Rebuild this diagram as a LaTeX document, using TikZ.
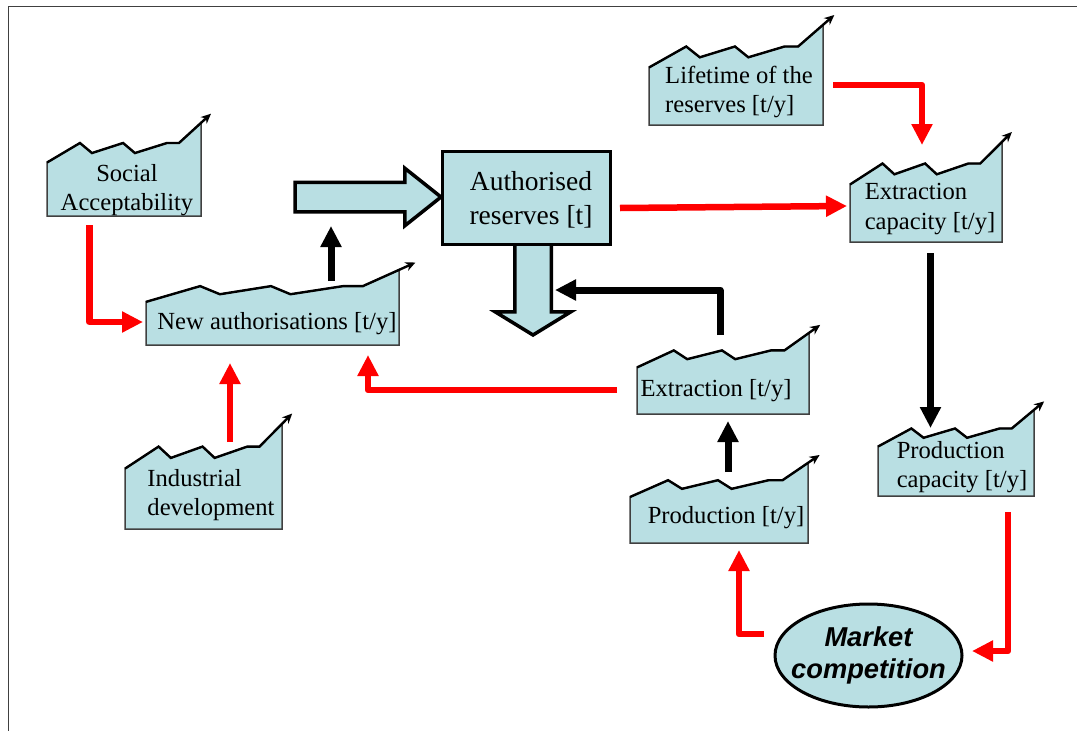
\documentclass[tikz,border=0pt]{standalone}
\usepackage{fontspec}
\usetikzlibrary{arrows.meta,shapes.geometric,shapes.arrows}
\setmainfont{Liberation Serif}
\newfontfamily\marketfont{Liberation Sans}
\definecolor{chartblue}{HTML}{B9DFE3}
\tikzset{
	redflow/.style={draw=red,line width=6.5pt,line join=round,-{Triangle[length=21pt,width=20pt]}},
	blackflow/.style={draw=black,line width=7pt,line join=round,-{Triangle[length=21pt,width=20pt]}},
	chartframe/.style={rectangle,inner sep=0pt,outer sep=0pt},
	charttext/.style={align=left,inner sep=0pt,font=\fontsize{24.6}{29.5}\selectfont},
	bigarrow/.style={single arrow,anchor=tail,draw=black,fill=chartblue,line width=3.5pt,inner xsep=0pt,outer sep=0pt,single arrow head indent=0pt}
}
\newcommand{\chartbox}[5]{
	\pgfmathsetmacro\chartw{#4-#2}
	\pgfmathsetmacro\charth{#3-#5}
	\begin{scope}[shift={(#2,#3)},x=\chartw pt,y=\charth pt]
		\draw[fill=chartblue,draw=black!75,line width=1.5pt] (0,0) -- (0,.575) -- (.214,.785) -- (.292,.677) -- (.494,.785) -- (.571,.677) -- (.779,.785) -- (.857,.785) -- (1,1) -- (1,0) -- cycle;
		\draw[line width=2.4pt,-{Stealth[length=10pt,width=9pt]}] (0,.575) -- (.214,.785) -- (.292,.677) -- (.494,.785) -- (.571,.677) -- (.779,.785) -- (.857,.785) -- (1.065,1.1);
	\end{scope}
	\node[chartframe,minimum width=\chartw pt,minimum height=\charth pt] (#1) at ({(#2+#4)/2},{(#3+#5)/2}) {};
}
\begin{document}
\begin{tikzpicture}[x=1pt,y=-1pt]
	\useasboundingbox (0,0) rectangle (1077,731);
	\draw[black!75,line width=1pt] (8,731) |- (1077,6);

	\chartbox{social}{47}{216}{201}{123}
	\chartbox{newauth}{146}{345}{399}{270}
	\chartbox{industrial}{125}{529}{282}{424}
	\chartbox{lifetime}{649}{125}{823}{25}
	\chartbox{extcap}{850}{242}{1002}{142}
	\chartbox{extraction}{637}{414}{809}{333}
	\chartbox{production}{630}{543}{808}{463}
	\chartbox{prodcap}{878}{496}{1034}{410}

	\node[charttext,align=center] (social-text) at (127,190) {Social\\Acceptability};
	\node[charttext] (newauth-text) at (277,324) {New authorisations [t/y]};
	\node[charttext] (industrial-text) at (211,495) {Industrial\\development};
	\node[charttext] (lifetime-text) at (739,92) {Lifetime of the\\reserves [t/y]};
	\node[charttext] (extcap-text) at (930,209) {Extraction\\capacity [t/y]};
	\node[charttext] (extraction-text) at (716,391) {Extraction [t/y]};
	\node[charttext] (production-text) at (726,518) {Production [t/y]};
	\node[charttext] (prodcap-text) at (962,467) {Production\\capacity [t/y]};

	\node[bigarrow,inner ysep=13pt,minimum height=146pt,single arrow head extend=14pt,single arrow tip angle=77] (rightarrow) at (295,197) {};
	\node[bigarrow,rotate=-90,inner ysep=16.5pt,minimum height=95pt,single arrow head extend=19.5pt,single arrow tip angle=117] (downarrow) at (533,240) {};
	\node[rectangle,draw=black,fill=chartblue,line width=3pt,outer sep=0pt,minimum width=168pt,minimum height=93pt] (reserves) at (526,197.5) {};
	\node[align=center,inner sep=0pt,font=\fontsize{27.5}{34}\selectfont] (reserves-text) at (531,200) {Authorised\\reserves [t]};
	\node[ellipse,draw=black,fill=chartblue,line width=3pt,inner xsep=-12pt,inner ysep=0pt,outer sep=0pt,minimum width=187pt,minimum height=103pt,align=center,font=\marketfont\bfseries\itshape\fontsize{27.3}{32}\selectfont] (market) at (868.5,655.5) {Market\\competition};

	\draw[redflow] ([shift={(-34.5,9)}]social.south) |- ([shift={(-3,14.5)}]newauth.west);
	\draw[redflow] ([shift={(26.5,18)}]industrial.north) -- ([shift={(-42.5,18)}]newauth.south);
	\draw[redflow] ([shift={(-20,16.5)}]extraction.west) -| ([shift={(95.5,10)}]newauth.south);
	\draw[redflow] ([shift={(10,10.5)}]reserves.east) -- ([shift={(-3,14)}]extcap.west);
	\draw[redflow] ([shift={(10,10)}]lifetime.east) -| ([shift={(-4,3)}]extcap.north);
	\draw[redflow] ([shift={(52,16)}]prodcap.south) |- ([shift={(10,-4.5)}]market.east);
	\draw[redflow] ([shift={(-11,-21.5)}]market.west) -| ([shift={(20,7)}]production.south);
	\draw[blackflow] ([shift={(58.5,11)}]newauth.north) -- ([shift={(36,29)}]rightarrow.tail);
	\draw[blackflow] ([shift={(-3,2)}]extraction.north) |- ([shift={(22,50)}]downarrow.tail);
	\draw[blackflow] ([shift={(9,9)}]production.north) -- ([shift={(5,7)}]extraction.south);
	\draw[blackflow] ([shift={(4.5,11)}]extcap.south) -- ([shift={(-25.5,18)}]prodcap.north);
\end{tikzpicture}
\end{document}
